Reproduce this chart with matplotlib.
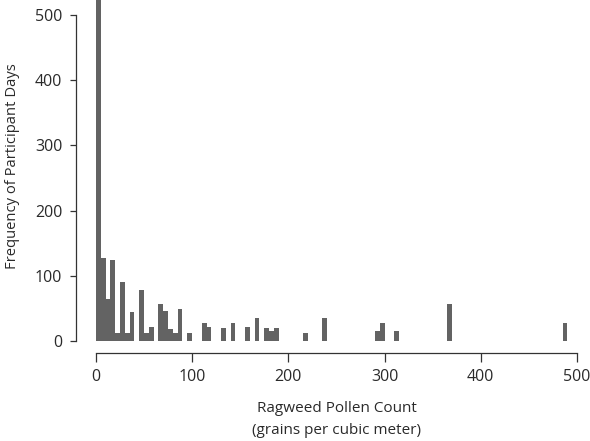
import numpy as np
import matplotlib.pyplot as plt
from matplotlib.transforms import blended_transform_factory

plt.rcParams['font.family'] = ['Open Sans', 'DejaVu Sans']

# --- dados: histograma com classes de 5 (0 a 500) ---
bin_width = 5
bin_left = np.arange(0, 500, bin_width)
# contagens nao nulas (classe -> frequencia)
nonzero = {
    0: 780,  # primeira barra sai do grafico
    5: 128, 10: 64, 15: 125, 20: 13, 25: 90, 30: 13, 35: 44,
    45: 78, 50: 13, 55: 22, 65: 57, 70: 46, 75: 18, 80: 13, 85: 49,
    95: 13, 110: 28, 115: 22, 130: 20, 140: 28, 155: 22, 165: 36,
    175: 20, 180: 15, 185: 20, 215: 13, 235: 35, 290: 15, 295: 27,
    310: 15, 365: 57, 485: 27,
}
counts = np.array([nonzero.get(int(b), 0) for b in bin_left])

x_ticks = [0, 100, 200, 300, 400, 500]
y_ticks = [0, 100, 200, 300, 400, 500]

fig = plt.figure(figsize=(5.9, 4.41), dpi=100)
ax = fig.add_axes([75.7 / 590, 88 / 441, (586.6 - 75.7) / 590, 353 / 441])

ax.bar(bin_left, counts, width=bin_width, align='edge', color='#636363',
       edgecolor='none', linewidth=0)

ax.set_xlim(-21, 510)
ax.set_ylim(-18.4, 523)

for s in ['top', 'right']:
    ax.spines[s].set_visible(False)
ax.spines['left'].set_bounds(0, 500)
ax.spines['bottom'].set_bounds(0, 500)
for s in ['left', 'bottom']:
    ax.spines[s].set_color('#333333')
    ax.spines[s].set_linewidth(0.9)

ax.set_xticks(x_ticks)
ax.set_yticks(y_ticks)
ax.tick_params(axis='both', direction='out', width=0.9,
               color='#333333', labelsize=11.5, labelcolor='#2a2a2a')
ax.tick_params(axis='x', length=6.2, pad=5.5)
ax.tick_params(axis='y', length=4.6, pad=5)

tr = blended_transform_factory(ax.transData, fig.transFigure)
ax.text(250, 1 - 408 / 441, 'Ragweed Pollen Count', transform=tr,
        ha='center', va='center', fontsize=11, color='#2a2a2a')
ax.text(250, 1 - 430 / 441, '(grains per cubic meter)', transform=tr,
        ha='center', va='center', fontsize=11, color='#2a2a2a')
fig.text(13 / 590, 1 - 166 / 441, 'Frequency of Participant Days',
         rotation=90, ha='center', va='center', fontsize=10.6, color='#2a2a2a')

plt.savefig('out.png', dpi=100)
